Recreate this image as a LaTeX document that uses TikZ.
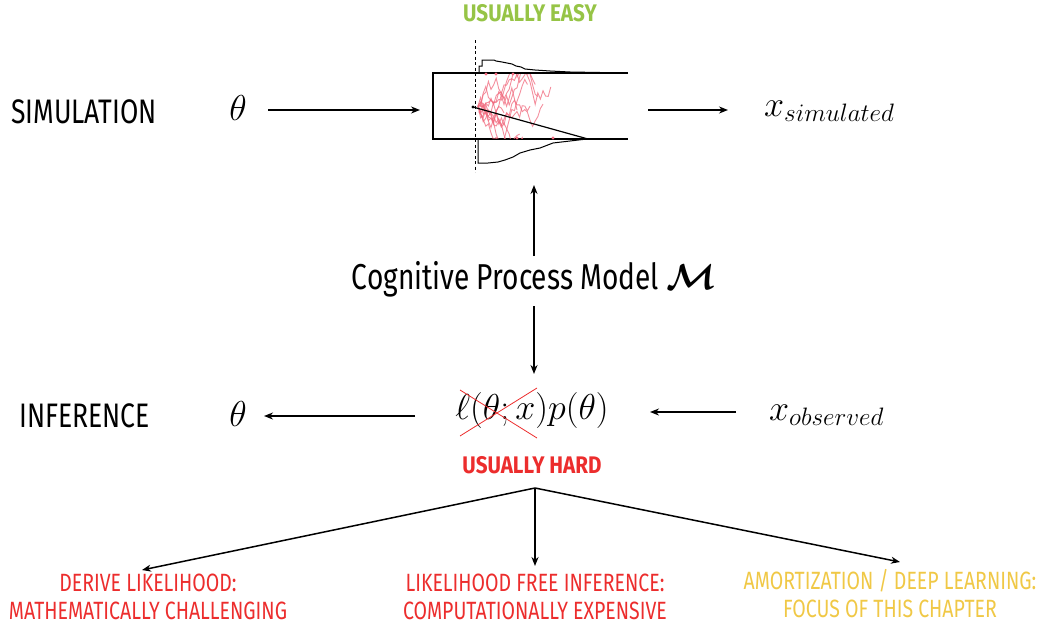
\documentclass[tikz,border=0pt]{standalone}
\usepackage{fix-cm}
\usepackage{amsmath,bm}
\usepackage{fontspec}
\setmainfont[FakeStretch=0.78]{Fira Sans}
\newfontfamily\boldcond[FakeStretch=0.86]{Fira Sans}
\usetikzlibrary{arrows.meta}
\definecolor{easygreen}{RGB}{150,196,70}
\definecolor{hardred}{RGB}{236,45,45}
\definecolor{focusyellow}{RGB}{240,200,70}
\definecolor{walkpink}{RGB}{240,105,125}
\tikzset{
  arr/.style={line width=1.5pt,-{Stealth[length=9pt,width=7pt]}},
  rowlabel/.style={font=\fontsize{34}{36}\selectfont,anchor=west,inner sep=0pt},
  mathlbl/.style={font=\fontsize{36}{38}\selectfont,inner sep=0pt},
  verdict/.style={font=\boldcond\bfseries\fontsize{24}{26}\selectfont,inner sep=0pt},
  choice/.style={font=\fontsize{25}{28}\selectfont,align=center,inner sep=0pt},
  frame/.style={line width=1.4pt},
  hist/.style={line width=1pt},
  walk/.style={walkpink,line width=0.9pt,opacity=0.75},
}
\begin{document}
\begin{tikzpicture}[x=1pt,y=-1pt]
\useasboundingbox (0,0) rectangle (1044,629);

% ---- simulation row ----
\node[verdict,text=easygreen] (easy) at (530,13) {USUALLY EASY};
\node[rowlabel] (simlbl) at (11,112) {SIMULATION};
\node[mathlbl] (thsim) at (238,108) {$\theta$};
\coordinate (simin) at (420,110);
\coordinate (simout) at (648,110);
\node[mathlbl,anchor=west] (xsim) at (764,111) {$x_{simulated}$};
\draw[arr] (268,110) -- (simin);
\draw[arr] (simout) -- (728,110);

% simulator sketch: bounds, histograms and random walks
\coordinate (boxtl) at (433,73);
\coordinate (boxbl) at (433,139);
\draw[frame] (628,73) -- (boxtl) -- (boxbl) -- (628,139);
\begin{scope}
  \clip (477,74) rectangle (600,138);
  \pgfmathsetseed{5}
  \foreach \n in {14,18,22,25,20,16,28,12,19,23,10,15}{
    \draw[walk] (478,106) \foreach \i in {1,...,\n}{ -- ++(2.6,{rand*12}) };
  }
\end{scope}
\foreach \p in {(486,74),(496,74),(513,74),(517,138),(553,138),(480,112)}
  \fill[walkpink] \p circle (1.6pt);
\draw[hist] (479,73) -- (479,66) -- (482,66) -- (482,60) -- (494,60) -- (496,61)
  -- (502,62) -- (507,63) -- (512,64) -- (516,66) -- (521,67) -- (525,69)
  -- (535,70) -- (550,71) -- (570,72) -- (600,72.5) -- (625,73);
\draw[hist] (478,139) -- (478,163) -- (488,163) -- (498,162) -- (505,160)
  -- (513,157) -- (520,153) -- (530,150) -- (540,148) -- (553,143)
  -- (570,141) -- (587,139);
\draw[line width=1.2pt] (473,107) -- (588,139);
\fill (473,107) circle (1.7pt);
\draw[line width=1pt,dash pattern=on 3pt off 2.5pt] (475,40) -- (475,172);

% ---- model ----
\node[font=\fontsize{36}{40}\selectfont,inner sep=0pt] (model) at (534,279)
  {Cognitive Process Model $\bm{\mathcal{M}}$};
\draw[arr] (534,256) -- (534,185);
\draw[arr] (534,306) -- (534,374);

% ---- inference row ----
\node[rowlabel] (inflbl) at (19,416) {INFERENCE};
\node[mathlbl] (thinf) at (238,414) {$\theta$};
\node[mathlbl] (post) at (532,410) {$\ell(\theta;x)p(\theta)$};
\node[mathlbl,anchor=west] (xobs) at (769,415) {$x_{observed}$};
\draw[arr] (415,416) -- (264,416);
\draw[arr] (736,412) -- (650,412);
\draw[hardred,line width=0.8pt] (460,390) -- (537,438);
\draw[hardred,line width=0.8pt] (537,388) -- (460,436);
\node[verdict,text=hardred] (hard) at (532,465) {USUALLY HARD};

% ---- approaches ----
\coordinate (fork) at (535,488);
\draw[arr] (fork) -- (142,570);
\draw[arr] (fork) -- (535,566);
\draw[arr] (fork) -- (900,562);
\node[choice,text=hardred] (derive) at (148,597)
  {DERIVE LIKELIHOOD:\\MATHEMATICALLY CHALLENGING};
\node[choice,text=hardred] (lfi) at (535,597)
  {LIKELIHOOD FREE INFERENCE:\\COMPUTATIONALLY EXPENSIVE};
\node[choice,text=focusyellow] (amort) at (890,594)
  {AMORTIZATION / DEEP LEARNING:\\FOCUS OF THIS CHAPTER};
\end{tikzpicture}
\end{document}
